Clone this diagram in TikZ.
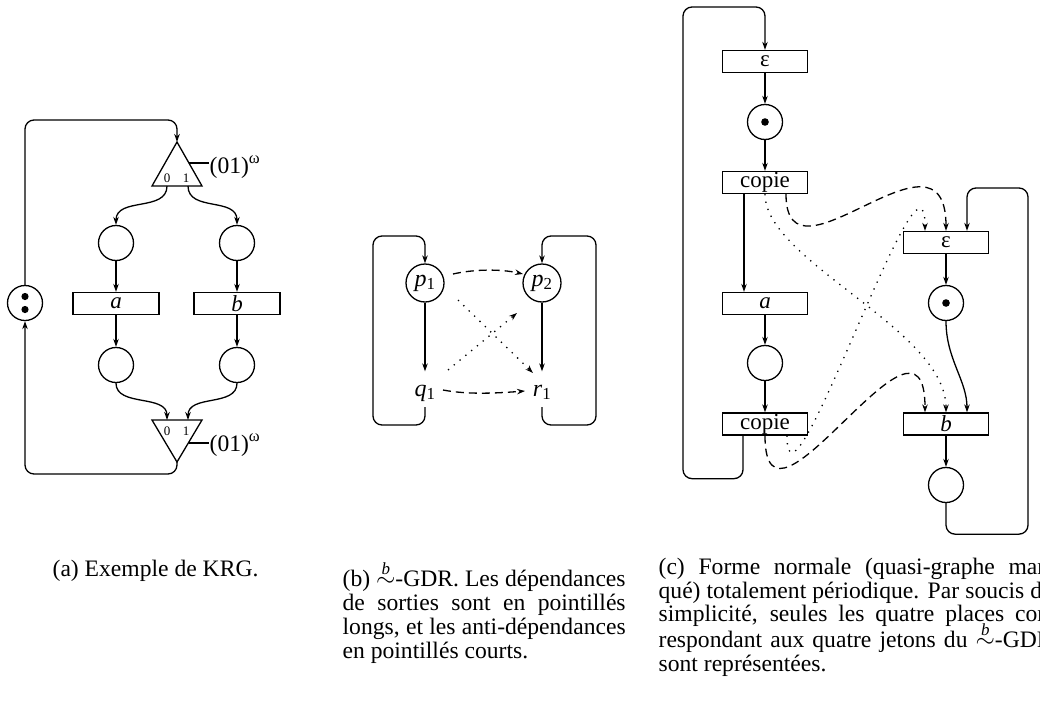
\documentclass[tikz,border=0pt]{standalone}
\usepackage{fontspec}
\setmainfont{Liberation Serif}
\usetikzlibrary{arrows.meta,calc}
\newcommand\bsimrel{\ensuremath{\stackrel{\mbox{\fontsize{17}{17}\selectfont\itshape b}}{\sim}}}
\tikzset{
  place/.style={circle,draw,minimum size=35pt,inner sep=0pt},
  bplace/.style={circle,draw,minimum size=38pt,inner sep=0pt,font=\fontsize{24}{24}\selectfont},
  trans/.style={rectangle,draw,minimum width=85pt,minimum height=22pt,inner sep=0pt,font=\fontsize{23}{23}\selectfont},
  txtlbl/.style={anchor=base,inner sep=0pt,text height=24pt,text depth=0pt,font=\fontsize{24}{24}\selectfont},
  portlbl/.style={inner sep=0pt,font=\fontsize{13}{13}\selectfont},
  omegalbl/.style={anchor=base west,inner sep=0pt,font=\fontsize{23.6}{24}\selectfont},
  captxt/.style={anchor=base west,inner sep=0pt,font=\fontsize{23.6}{24}\selectfont},
  dshl/.style={dash pattern=on 8pt off 5pt},
  dotl/.style={dash pattern=on 1.3pt off 6.2pt},
  tokenfill/.style={fill=black},
}
\begin{document}
\begin{tikzpicture}[x=1pt,y=-1pt,line width=1.3pt,>={Stealth[length=8pt,width=5.5pt]}]
\useasboundingbox (0,0) rectangle (1040,709);
\clip (0,0) rectangle (1040,709);

% ---------------- panel (a) ----------------
\coordinate (t1apex) at (177,142);
\coordinate (t1l) at (152,186);
\coordinate (t1r) at (202,186);
\draw (t1apex) -- (t1l) -- (t1r) -- cycle;
\node[portlbl] (t1zero) at (167,178) {0};
\node[portlbl] (t1one) at (186,178) {1};
\coordinate (t1p0) at (167,186);
\coordinate (t1p1) at (188,186);
\node[omegalbl] (w1) at (209,173) {(01)\textsuperscript{ω}};
\coordinate (w1c) at (189,163);
\draw (w1c) -- (w1c -| w1.west);

\coordinate (t2apex) at (177,462);
\coordinate (t2l) at (152,420);
\coordinate (t2r) at (202,420);
\draw (t2apex) -- (t2l) -- (t2r) -- cycle;
\node[portlbl] (t2zero) at (167,431) {0};
\node[portlbl] (t2one) at (186,431) {1};
\coordinate (t2p0) at (167,420);
\coordinate (t2p1) at (188,420);
\node[omegalbl] (w2) at (209,451) {(01)\textsuperscript{ω}};
\coordinate (w2c) at (189,443);
\draw (w2c) -- (w2c -| w2.west);

\node[place] (A1) at (116,243) {};
\node[place] (A2) at (237,243) {};
\node[trans,minimum width=86pt] (Ta) at (116,303.5) {\textit{a}};
\node[trans,minimum width=86pt] (Tb) at (237,303.5) {\textit{b}};
\node[place] (A3) at (116,365) {};
\node[place] (A4) at (237,365) {};
\node[place] (A0) at (25,303) {};
\fill[tokenfill] ([yshift=6.5pt]A0.center) circle (3.6);
\fill[tokenfill] ([yshift=-6.5pt]A0.center) circle (3.6);

\draw[->] (t1p0) .. controls +(0,26) and +(0,-28) .. (A1.north);
\draw[->] (t1p1) .. controls +(0,26) and +(0,-28) .. (A2.north);
\draw[->] (A1) -- (Ta);
\draw[->] (A2) -- (Tb);
\draw[->] (Ta) -- (A3);
\draw[->] (Tb) -- (A4);
\draw[->] (A3.south) .. controls +(0,24) and +(0,-26) .. (t2p0);
\draw[->] (A4.south) .. controls +(0,24) and +(0,-26) .. (t2p1);
\draw[->,rounded corners=9pt] (t2apex) -- (177,474) -- (25,474) -- (A0.south);
\draw[->,rounded corners=9pt] (A0.north) -- (25,120) -- (177,120) -- (t1apex);

% ---------------- panel (b) ----------------
\node[bplace] (p1) at (425,283) {\textit{p}\textsubscript{1}};
\node[bplace] (p2) at (542,283) {\textit{p}\textsubscript{2}};
\node[txtlbl] (q1) at (425,396) {\textit{q}\textsubscript{1}};
\node[txtlbl] (r1) at (542,396) {\textit{r}\textsubscript{1}};
\draw[->] (p1) -- (q1);
\draw[->] (p2) -- (r1);
\draw[->,dshl] ($(p1.center)+(28,-9)$) .. controls +(22,-5) and +(-22,-5) .. ($(p2.center)+(-19,-9)$);
\draw[->,dshl] ($(q1.base)+(18,-6)$) .. controls +(26,5) and +(-26,2) .. ($(r1.base)+(-17,-5)$);
\draw[->,dotl] ($(p1.center)+(33,17)$) -- ($(r1.base)+(-9,-23)$);
\draw[->,dotl] ($(q1.base)+(23,-26)$) -- ($(p2.center)+(-25,30)$);
\draw[->,rounded corners=9pt] ($(q1.base)+(0,11)$) -- ++(0,18) -| (373,236) -| (p1.north);
\draw[->,rounded corners=9pt] ($(r1.base)+(0,11)$) -- ++(0,18) -| (596,236) -| (p2.north);

% ---------------- panel (c) ----------------
\node[trans] (E1) at (765,61.5) {ε};
\node[place] (K1) at (765,122) {};
\fill[tokenfill] (K1.center) circle (3.8);
\node[trans] (C1) at (765,182.5) {copie};
\node[trans] (Ac) at (765,303.5) {\textit{a}};
\node[place] (K2) at (765,363) {};
\node[trans] (C2) at (765,424) {copie};
\node[trans] (E2) at (946,242.5) {ε};
\node[place] (K3) at (946,303) {};
\fill[tokenfill] (K3.center) circle (3.8);
\node[trans] (Bc) at (946,424) {\textit{b}};
\node[place] (K4) at (946,485) {};

\draw[->] (E1) -- (K1);
\draw[->] (K1) -- (C1);
\draw[->] ($(C1.south)+(-21,0)$) -- ($(Ac.north)+(-21,0)$);
\draw[->] (Ac) -- (K2);
\draw[->] (K2) -- (C2);
\draw[->,rounded corners=9pt] ($(C2.south)+(-22,0)$) -- ++(0,43) -| (683,7) -| (E1.north);
\draw[->] (E2) -- (K3);
\draw[->] (K3.south) .. controls +(0,38) and +(0,-32) .. ($(Bc.north)+(21,0)$);
\draw[->] (Bc) -- (K4);
\draw[->,rounded corners=9pt] (K4.south) -- ++(0,31) -| (1028,188) -| ($(E2.north)+(21,0)$);

\draw[->,dshl] ($(C1.south)+(21,0)$) .. controls +(0,102) and +(0,-120) .. (E2.north);
\draw[->,dotl] (C1.south) .. controls +(0,67) and +(0,-83) .. (Bc.north);
\draw[->,dotl] ($(C2.south)+(22,0)$) .. controls +(0,105) and +(0,-112) .. ($(E2.north)+(-21,0)$);
\draw[->,dshl] (C2.south) .. controls +(0,125) and +(0,-133) .. ($(Bc.north)+(-21,0)$);

% ---------------- captions ----------------
\node[captxt] (ca) at (52,576) {(a) Exemple de KRG.};
\node[captxt] (cb1) at (342,586) {\makebox[283pt][s]{(b) \bsimrel-GDR. Les dépendances}};
\node[captxt] (cb2) at (342,610) {\makebox[283pt][s]{de sorties sont en pointillés}};
\node[captxt] (cb3) at (342,634) {\makebox[283pt][s]{longs, et les anti-dépendances}};
\node[captxt] (cb4) at (342,658) {en pointillés courts.};
\node[captxt] (cc1) at (658,574) {\makebox[394pt][s]{(c) Forme normale (quasi-graphe mar-}};
\node[captxt] (cc2) at (658,598) {\makebox[394pt][s]{qué) totalement périodique. Par soucis de}};
\node[captxt] (cc3) at (658,621) {\makebox[394pt][s]{simplicité, seules les quatre places cor-}};
\node[captxt] (cc4) at (658,647) {\makebox[394pt][s]{respondant aux quatre jetons du \bsimrel-GDR}};
\node[captxt] (cc5) at (658,671) {sont représentées.};
\end{tikzpicture}
\end{document}
